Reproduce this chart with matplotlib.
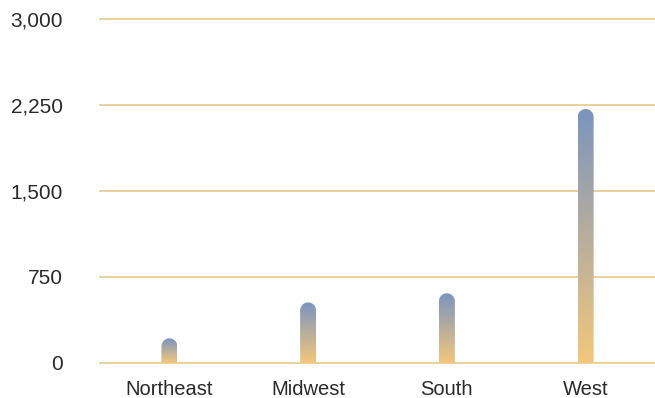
import numpy as np
import matplotlib.pyplot as plt
from matplotlib.path import Path
from matplotlib.patches import PathPatch
from matplotlib.colors import LinearSegmentedColormap

regions = ["Northeast", "Midwest", "South", "West"]
values = [215, 528, 608, 2215]
y_ticks = [0, 750, 1500, 2250, 3000]
y_labels = ["0", "750", "1,500", "2,250", "3,000"]

plt.rcParams['font.family'] = ['Liberation Sans', 'DejaVu Sans']

fig = plt.figure(figsize=(6.55, 3.98), dpi=100)
ax = fig.add_axes([100 / 655, 35 / 398, 555 / 655, 344 / 398])

ax.set_xlim(-0.5, 3.5)
ax.set_ylim(0, 3000)

grad = LinearSegmentedColormap.from_list("g", ["#F3C77C", "#7B95BF"])

# bar width and cap radius, converted from pixels to data units
px_x = 555 / 4.0
px_y = 344 / 3000.0
half_w = 8 / px_x
cap_r = 8 / px_y

for i, v in enumerate(values):
    x0, x1 = i - half_w, i + half_w
    body = max(v - cap_r, 0)
    t = np.linspace(0, np.pi, 30)
    arc = np.column_stack([i + half_w * np.cos(t), body + cap_r * np.sin(t)])
    verts = np.vstack([[[x0, 0], [x1, 0]], arc, [[x0, 0]]])
    patch = PathPatch(Path(verts), facecolor="none", edgecolor="none")
    ax.add_patch(patch)
    img = ax.imshow(np.linspace(1, 0, 256).reshape(-1, 1), cmap=grad,
                    extent=[x0, x1, 0, v], aspect="auto", zorder=3)
    img.set_clip_path(patch)

for yt in y_ticks:
    ax.axhline(yt, color="#E6C88E", lw=1.2, zorder=1, clip_on=False)

ax.set_yticks(y_ticks)
ax.set_yticklabels(y_labels, fontsize=15, color="#2a2a2a")
ax.set_xticks(range(len(regions)))
ax.set_xticklabels(regions, fontsize=14.5, color="#2a2a2a")
ax.tick_params(axis="y", length=0, pad=26.5)
ax.tick_params(axis="x", length=0, pad=12.5)
for s in ax.spines.values():
    s.set_visible(False)

fig.savefig("out.png", dpi=100)
